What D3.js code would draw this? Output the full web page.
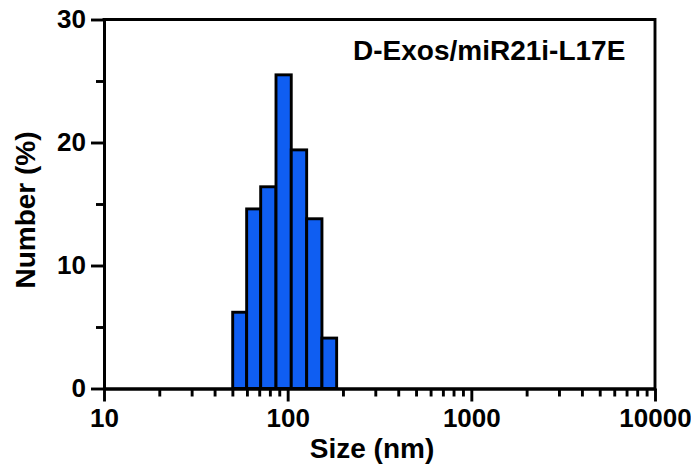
<!DOCTYPE html>
<html>
<head>
<meta charset="utf-8">
<script src="https://cdn.jsdelivr.net/npm/d3@7"></script>
<style>
  body { margin: 0; background: #fff; }
  svg text { font-family: "Liberation Sans", Arial, sans-serif; font-weight: bold; fill: #000; }
</style>
</head>
<body>
<svg id="chart" width="691" height="470"></svg>
<script>
// ---- data ----
const binLeft  = [50.2, 59.8, 71.3, 86.4, 104.6, 126.9, 153.7];
const binRight = [59.8, 71.3, 86.4, 104.6, 126.9, 153.7, 184.8];
const numberPct = [6.2, 14.6, 16.4, 25.5, 19.4, 13.8, 4.1];
const xMajorTicks = [10, 100, 1000, 10000];
const xTickLabels = ["10", "100", "1000", "10000"];
const xMinorTicks = [20,30,40,50,60,70,80,90,200,300,400,500,600,700,800,900,2000,3000,4000,5000,6000,7000,8000,9000];
const yMajorTicks = [0, 10, 20, 30];
const yMinorTicks = [5, 15, 25];
const sampleLabel = "D-Exos/miR21i-L17E";
const xTitle = "Size (nm)";
const yTitle = "Number (%)";

(function () {
// ---- layout ----
const svg = d3.select("#chart");
const mLeft = 104, mRight = 655, mTop = 19.5, mBottom = 388.5;
const x = d3.scaleLog().domain([10, 10000]).range([mLeft, mRight]);
const y = d3.scaleLinear().domain([0, 30]).range([mBottom, mTop]);
const lw = 2.9;

// bars
const bars = binLeft.map((l, i) => ({l, r: binRight[i], v: numberPct[i]}));
svg.append("g").selectAll("rect").data(bars).join("rect")
  .attr("x", d => x(d.l))
  .attr("width", d => x(d.r) - x(d.l))
  .attr("y", d => y(d.v))
  .attr("height", d => y(0) - y(d.v))
  .attr("fill", "#0f5ef2")
  .attr("stroke", "#000")
  .attr("stroke-width", lw);

// frame (top & right)
svg.append("path")
  .attr("d", `M${x(10)},${y(30)}H${x(10000)}V${y(0)}`)
  .attr("fill", "none").attr("stroke", "#000").attr("stroke-width", lw)
  .attr("stroke-linecap", "square");

function styleAxis(g) {
  g.selectAll("path, line").attr("stroke", "#000").attr("stroke-width", lw);
  g.selectAll("text").style("font-size", "26px").style("font-weight", "bold")
   .style("font-family", '"Liberation Sans", Arial, sans-serif');
}

// x axis
const gxMinor = svg.append("g").attr("transform", `translate(0,${mBottom})`)
  .call(d3.axisBottom(x).tickValues(xMinorTicks).tickSize(8).tickSizeOuter(0).tickFormat(""));
styleAxis(gxMinor);
const gx = svg.append("g").attr("transform", `translate(0,${mBottom})`)
  .call(d3.axisBottom(x).tickValues(xMajorTicks).tickSize(13).tickSizeOuter(0).tickPadding(7)
    .tickFormat((d, i) => xTickLabels[i]));
styleAxis(gx);

// y axis
const gyMinor = svg.append("g").attr("transform", `translate(${mLeft},0)`)
  .call(d3.axisLeft(y).tickValues(yMinorTicks).tickSize(8).tickSizeOuter(0).tickFormat(""));
styleAxis(gyMinor);
const gy = svg.append("g").attr("transform", `translate(${mLeft},0)`)
  .call(d3.axisLeft(y).tickValues(yMajorTicks).tickSize(13).tickSizeOuter(0).tickPadding(5)
    .tickFormat(d3.format("d")));
styleAxis(gy);

// titles
svg.append("text")
  .attr("x", 372).attr("y", 458)
  .attr("text-anchor", "middle")
  .style("font-size", "28px")
  .text(xTitle);

svg.append("text")
  .attr("transform", `translate(35,210) rotate(-90)`)
  .attr("text-anchor", "middle")
  .style("font-size", "28px")
  .text(yTitle);

svg.append("text")
  .attr("x", 353).attr("y", 60)
  .style("font-size", "28px")
  .text(sampleLabel);
})();
</script>
</body>
</html>
